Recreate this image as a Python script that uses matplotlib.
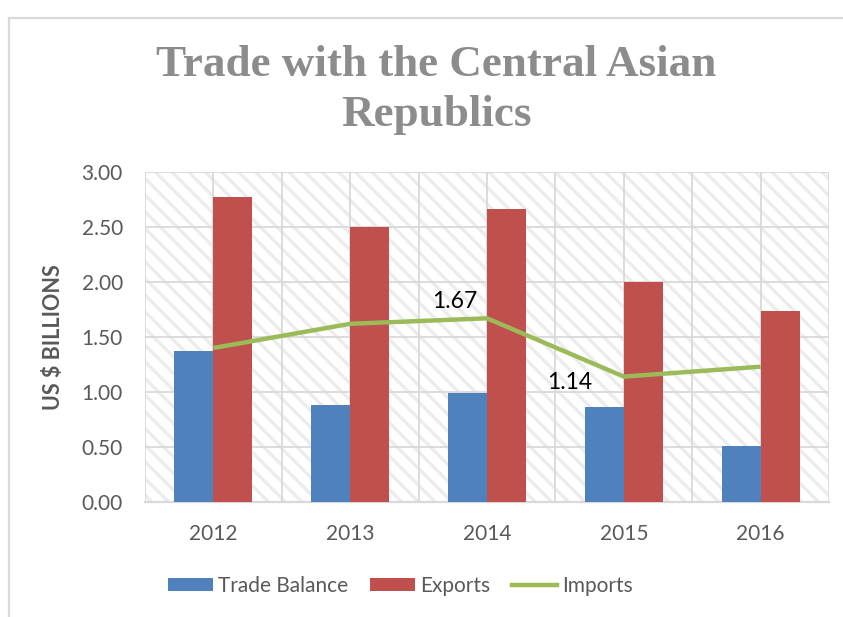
import matplotlib
matplotlib.use("Agg")
import matplotlib.pyplot as plt
from matplotlib.patches import Rectangle, Patch
from matplotlib.lines import Line2D
import numpy as np

years = ["2012", "2013", "2014", "2015", "2016"]
trade_balance = [1.37, 0.88, 0.99, 0.86, 0.51]
exports = [2.77, 2.50, 2.66, 2.00, 1.74]
imports = [1.40, 1.62, 1.67, 1.14, 1.23]
labelled_points = {2: "1.67", 3: "1.14"}

BLUE = "#4F81BD"
RED = "#C0504D"
GREEN = "#9BBB59"
GRID = "#d9d9d9"
TXT = "#595959"

plt.rcParams["font.family"] = ["Lato", "DejaVu Sans"]
plt.rcParams["hatch.linewidth"] = 2.4

fig = plt.figure(figsize=(8.43, 6.17), dpi=100)
W, H = 843, 617
ax = fig.add_axes([145 / W, 1 - 502 / H, (829 - 145) / W, (502 - 172) / H])

# outer chart frame
fig.patches.append(Rectangle((9 / W, -0.05), 1.1, 1 - 18 / H + 0.05,
                             transform=fig.transFigure, fill=False,
                             edgecolor="#d9d9d9", linewidth=1.6, zorder=0))

# hatched plot background
ax.add_patch(Rectangle((0, 0), 1, 1, transform=ax.transAxes, facecolor="white",
                       edgecolor="#ececec", hatch="\\\\", linewidth=0, zorder=0))

x = np.arange(len(years))
bw = 0.285
ax.bar(x - bw / 2, trade_balance, bw, color=BLUE, zorder=3)
ax.bar(x + bw / 2, exports, bw, color=RED, zorder=3)
ax.plot(x, imports, color=GREEN, linewidth=3.2, zorder=4, solid_capstyle="butt")

offsets = {2: (-23, 12), 3: (-39, -4)}
for i, lab in labelled_points.items():
    ax.annotate(lab, (x[i], imports[i]), xytext=offsets[i], textcoords="offset points",
                ha="center", va="center", fontsize=16.5, color="black", zorder=5)

ax.set_xlim(-0.5, 4.5)
ax.set_ylim(0, 3.0)
ax.set_yticks(np.arange(0, 3.01, 0.5))
ax.set_yticklabels([f"{v:.2f}" for v in np.arange(0, 3.01, 0.5)])
ax.set_xticks(x)
ax.set_xticklabels(years)
ax.set_xticks(np.arange(-0.5, 4.6, 1.0), minor=True)
ax.grid(True, which="both", axis="x", color=GRID, linewidth=1.3, zorder=1)
ax.grid(True, which="major", axis="y", color=GRID, linewidth=1.3, zorder=1)
ax.set_axisbelow(True)
ax.tick_params(axis="both", which="both", length=0, labelsize=15, labelcolor=TXT)
ax.tick_params(axis="x", pad=16)
ax.tick_params(axis="y", pad=16)
for s in ["top", "right", "left"]:
    ax.spines[s].set_visible(False)
ax.spines["bottom"].set_color("#d9d9d9")
ax.spines["bottom"].set_linewidth(1.6)

ax.set_ylabel("US $ BILLIONS", fontsize=15.5, fontweight="bold", color=TXT)
ax.yaxis.set_label_coords(-(145 - 64) / (829 - 145), 0.5)

fig.text(436 / W, 1 - 90 / H, "Trade with the Central Asian\nRepublics", ha="center",
         va="center", fontsize=32.5, fontweight="bold", color="#8c8c8c",
         family=["Liberation Serif", "DejaVu Serif"], linespacing=1.3)

handles = [Patch(facecolor=BLUE), Patch(facecolor=RED),
           Line2D([0], [0], color=GREEN, linewidth=3.2)]
leg = fig.legend(handles, ["Trade Balance", "Exports", "Imports"], loc="center",
                 bbox_to_anchor=(400 / W, 1 - 586 / H), ncol=3, frameon=False,
                 fontsize=15, handlelength=2.2, handleheight=0.6, handletextpad=0.2,
                 columnspacing=1.05)
for t in leg.get_texts():
    t.set_color(TXT)

fig.savefig("out.png", dpi=100)
